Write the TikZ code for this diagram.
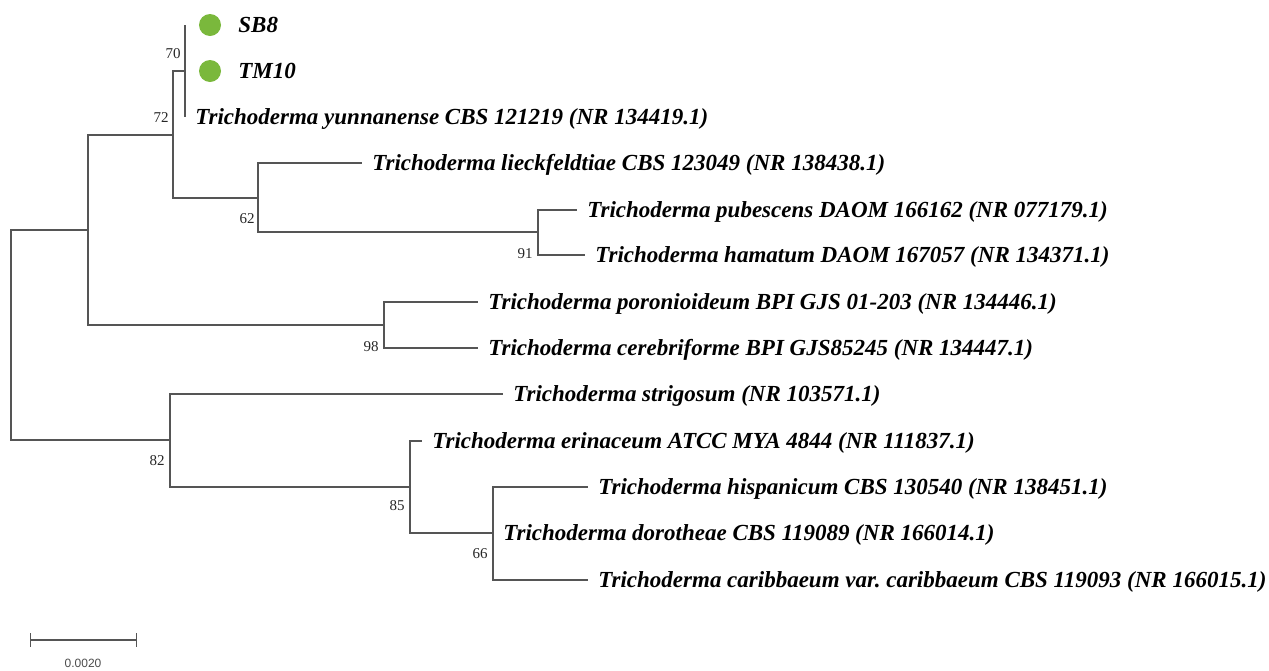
\documentclass[tikz,border=0pt]{standalone}
\usepackage{fontspec}
\setmainfont{Liberation Serif}
\setsansfont{Liberation Sans}
\usetikzlibrary{positioning}
\definecolor{BranchGray}{RGB}{85,85,85}
\definecolor{IsolateGreen}{RGB}{122,184,60}

\begin{document}
\begin{tikzpicture}[x=0.5pt,y=-0.5pt,
    branch/.style={draw=BranchGray,line width=0.65pt},
    leaf/.style={anchor=west,inner xsep=5pt,inner ysep=0pt,text height=7.6pt,text depth=0pt,
      font=\fontsize{11.5}{13}\selectfont\bfseries\itshape},
    boot/.style={anchor=east,inner sep=1pt,text height=5pt,text depth=0pt,
      font=\fontsize{7.5}{9}\selectfont,text=black!85},
    isolate/.style={circle,fill=IsolateGreen,minimum size=11pt,inner sep=0pt}]
  \useasboundingbox (0,0) rectangle (1269,670);
  % internal nodes
  \coordinate (root) at (11,335);
  \coordinate (nA) at (88,230);
  \coordinate (n72) at (173,135);
  \coordinate (n70) at (185,71);
  \coordinate (n62) at (258,198);
  \coordinate (n91) at (538,232);
  \coordinate (n98) at (384,325);
  \coordinate (n82) at (170,440);
  \coordinate (n85) at (410,487);
  \coordinate (n66) at (493,533);
  % isolates
  \node[isolate] (sb8dot) at (210,25) {};
  \node[isolate] (tm10dot) at (210,71) {};
  \node[leaf] (sb8) at (228,25) {SB8};
  \node[leaf] (tm10) at (228,71) {TM10};
  % reference strains
  \node[leaf] (yun) at (185,117) {Trichoderma yunnanense CBS 121219 (NR 134419.1)};
  \node[leaf] (lie) at (362,163) {Trichoderma lieckfeldtiae CBS 123049 (NR 138438.1)};
  \node[leaf] (pub) at (577,210) {Trichoderma pubescens DAOM 166162 (NR 077179.1)};
  \node[leaf] (ham) at (585,255) {Trichoderma hamatum DAOM 167057 (NR 134371.1)};
  \node[leaf] (por) at (478,302) {Trichoderma poronioideum BPI GJS 01-203 (NR 134446.1)};
  \node[leaf] (cer) at (478,348) {Trichoderma cerebriforme BPI GJS85245 (NR 134447.1)};
  \node[leaf] (str) at (503,394) {Trichoderma strigosum (NR 103571.1)};
  \node[leaf] (eri) at (422,441) {Trichoderma erinaceum ATCC MYA 4844 (NR 111837.1)};
  \node[leaf] (his) at (588,487) {Trichoderma hispanicum CBS 130540 (NR 138451.1)};
  \node[leaf] (dor) at (493,533) {Trichoderma dorotheae CBS 119089 (NR 166014.1)};
  \node[leaf] (car) at (588,580) {Trichoderma caribbaeum var.\ caribbaeum CBS 119093 (NR 166015.1)};
  % branches
  \foreach \p/\c in {root/nA,root/n82,nA/n72,nA/n98,n72/n70,n72/n62,n62/n91,n82/n85,n85/n66}
    \draw[branch] (\p) |- (\c);
  \foreach \p/\c in {n70/yun,n62/lie,n91/pub,n91/ham,n98/por,n98/cer,n82/str,n85/eri,n66/his,n66/dor,n66/car}
    \draw[branch] (\p) |- (\c.west);
  \draw[branch] (n70) -- (n70 |- sb8dot);
  % bootstrap values
  \node[boot] (b70) at (183,53) {70};
  \node[boot] (b72) at (171,117) {72};
  \node[boot] (b62) at (257,218) {62};
  \node[boot] (b91) at (535,253) {91};
  \node[boot] (b98) at (381,346) {98};
  \node[boot] (b82) at (167,460) {82};
  \node[boot] (b85) at (407,505) {85};
  \node[boot] (b66) at (490,553) {66};
  % scale bar
  \coordinate (barL) at (30,640);
  \coordinate (barR) at (137,640);
  \draw[branch,|-|] (barL) -- (barR);
  \node[font=\sffamily\fontsize{6}{7}\selectfont,text=black!70] (barlab) at (83,663) {0.0020};
\end{tikzpicture}
\end{document}
